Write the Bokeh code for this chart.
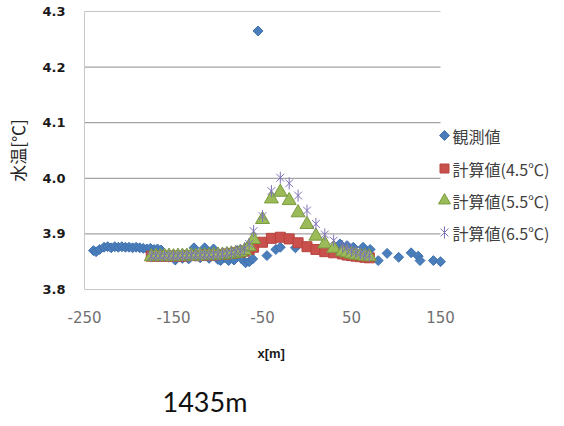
import numpy as np
from bokeh.plotting import figure
from bokeh.models import Range1d, FixedTicker, Title, ColumnDataSource
from bokeh.core.properties import value
from bokeh.embed import file_html
from bokeh.resources import INLINE

# ---- data ----
obs_x = [-240, -237, -233, -228, -224, -220, -216, -212, -208, -204,
         -200, -196, -192, -188, -184, -180, -176, -172, -168, -164,
         -155, -148, -140, -133, -127, -120, -115, -110, -105, -100,
         -97, -92, -88, -82, -78, -74, -69, -65, -61,
         -55, -45, -35, -30, -13, 37, 45, 52, 63, 71,
         80, 90, 103, 117, 125, 127, 142, 150]
obs_y = [3.870, 3.868, 3.872, 3.876, 3.877, 3.875, 3.877, 3.876, 3.877, 3.876,
         3.876, 3.875, 3.876, 3.875, 3.874, 3.873, 3.874, 3.872, 3.873, 3.871,
         3.858, 3.853, 3.856, 3.855, 3.875, 3.857, 3.875, 3.856, 3.873, 3.854,
         3.852, 3.857, 3.852, 3.853, 3.870, 3.856, 3.848, 3.850, 3.855,
         4.265, 3.861, 3.872, 3.876, 3.875, 3.882, 3.879, 3.876, 3.876, 3.872,
         3.852, 3.865, 3.858, 3.866, 3.860, 3.852, 3.852, 3.850]

calc_x = [-175, -170, -165, -160, -155, -150, -145, -140, -135, -130,
          -125, -120, -115, -110, -105, -100, -95, -90, -85, -80,
          -75, -70, -65,
          -60, -50, -40, -30, -20, -10, 0, 10, 20, 30, 40,
          45, 50, 55, 60, 65, 70]
calc_45 = [3.860, 3.860, 3.860, 3.860, 3.860, 3.860, 3.860, 3.860, 3.861, 3.861,
           3.861, 3.861, 3.862, 3.862, 3.862, 3.863, 3.863, 3.864, 3.865, 3.866,
           3.867, 3.869, 3.872,
           3.876, 3.885, 3.892, 3.894, 3.891, 3.884, 3.877, 3.872, 3.868, 3.866, 3.864,
           3.862, 3.861, 3.860, 3.859, 3.858, 3.857]
calc_55 = [3.859, 3.860, 3.859, 3.860, 3.860, 3.859, 3.860, 3.860, 3.860, 3.861,
           3.860, 3.861, 3.861, 3.861, 3.862, 3.862, 3.862, 3.863, 3.864, 3.865,
           3.867, 3.870, 3.877,
           3.890, 3.926, 3.963, 3.975, 3.960, 3.938, 3.917, 3.896, 3.882, 3.874, 3.868,
           3.866, 3.864, 3.862, 3.861, 3.860, 3.859]
calc_65 = [3.860, 3.861, 3.860, 3.861, 3.861, 3.860, 3.861, 3.861, 3.861, 3.862,
           3.861, 3.862, 3.862, 3.862, 3.863, 3.863, 3.864, 3.865, 3.866, 3.868,
           3.870, 3.874, 3.882,
           3.905, 3.932, 3.977, 4.001, 3.991, 3.969, 3.942, 3.918, 3.899, 3.888, 3.878,
           3.874, 3.870, 3.867, 3.865, 3.863, 3.861]

series_names = ["観測値", "計算値(4.5℃)", "計算値(5.5℃)", "計算値(6.5℃)"]
x_ticks = [-250, -150, -50, 50, 150]
x_tick_labels = ["-250", "-150", "-50", "50", "150"]
y_ticks = [3.8, 3.9, 4.0, 4.1, 4.2, 4.3]
y_tick_labels = ["3.8", "3.9", "4.0", "4.1", "4.2", "4.3"]
x_title = "x[m]"
y_title = "水温[℃]"
caption = "1435m"

# ---- layout (pixels) ----
W, H = 564, 426
PLOT_LEFT, PLOT_RIGHT, PLOT_TOP, PLOT_BOTTOM = 84, 440, 11, 289
X_MIN, X_MAX = x_ticks[0], x_ticks[-1]
Y_MIN, Y_MAX = y_ticks[0], y_ticks[-1]
px_per_x = (PLOT_RIGHT - PLOT_LEFT) / (X_MAX - X_MIN)
px_per_y = (PLOT_BOTTOM - PLOT_TOP) / (Y_MAX - Y_MIN)
# the frame is widened to the page's right edge so the key can sit beside the plot
x_frame_end = X_MAX + (W - PLOT_RIGHT) / px_per_x

def sx_to_x(px):
    return X_MAX + (px - PLOT_RIGHT) / px_per_x

def sy_to_y(py):
    return Y_MAX - (py - PLOT_TOP) / px_per_y

p = figure(width=W, height=H, output_backend="svg", toolbar_location=None,
           x_range=Range1d(X_MIN, x_frame_end), y_range=Range1d(Y_MIN, Y_MAX),
           min_border_left=PLOT_LEFT, min_border_right=0,
           min_border_top=PLOT_TOP, min_border_bottom=H - PLOT_BOTTOM)
p.outline_line_color = None
p.background_fill_color = "white"
p.border_fill_color = "white"

p.xaxis.ticker = FixedTicker(ticks=x_ticks)
p.xaxis.major_label_overrides = dict(zip(x_ticks, x_tick_labels))
p.yaxis.ticker = FixedTicker(ticks=y_ticks)
p.yaxis.major_label_overrides = dict(zip(y_ticks, y_tick_labels))
p.xgrid.grid_line_color = None
p.ygrid.grid_line_color = None

for ax in (p.xaxis, p.yaxis):
    ax.major_tick_line_color = None
    ax.minor_tick_line_color = None
    ax.major_tick_out = 0
    ax.major_tick_in = 0
p.xaxis.axis_line_color = None
p.yaxis.axis_line_color = "#C8C8C8"

# horizontal gridlines (and the x axis line) only across the plotting area
p.segment(x0=[X_MIN] * len(y_ticks), x1=[X_MAX] * len(y_ticks),
          y0=y_ticks, y1=y_ticks, line_color="#8C8C8C", line_width=1)

p.yaxis.major_label_text_font = "DejaVu Sans"
p.yaxis.major_label_text_font_style = "bold"
p.yaxis.major_label_text_font_size = "13px"
p.yaxis.major_label_text_color = "#1A1A1A"
p.yaxis.major_label_standoff = 19

p.xaxis.major_label_text_font = "DejaVu Sans"
p.xaxis.major_label_text_font_size = "15px"
p.xaxis.major_label_text_color = "#707070"
p.xaxis.major_label_standoff = 21

p.yaxis.axis_label = y_title
p.yaxis.axis_label_text_font = "Noto Sans CJK JP"
p.yaxis.axis_label_text_font_style = "normal"
p.yaxis.axis_label_text_font_size = "17px"
p.yaxis.axis_label_text_color = "#262626"
p.yaxis.axis_label_standoff = 9

# ---- series ----
mk = dict(
    obs=dict(marker="square", size=7, angle=np.pi / 4,
             fill_color="#4A7EBB", line_color="#3F70AD"),
    c45=dict(marker="square", size=10, fill_color="#C9504C", line_color="#B8443F"),
    c55=dict(marker="triangle", size=14, fill_color="#9BBB59", line_color="#7A9A3F"),
    c65x=dict(marker="x", size=11, line_color="#7E72B8", line_width=1),
    c65d=dict(marker="dash", size=12, angle=np.pi / 2, line_color="#7E72B8", line_width=1),
)
p.scatter(obs_x, obs_y, **mk["obs"])
p.scatter(calc_x, calc_45, **mk["c45"])
p.scatter(calc_x, calc_55, **mk["c55"])
p.scatter(calc_x, calc_65, **mk["c65x"])
p.scatter(calc_x, calc_65, **mk["c65d"])

# ---- key beside the plot ----
key_rows_px = [135, 168, 200, 232]
key_y = [sy_to_y(v) for v in key_rows_px]
key_mx = sx_to_x(444)
key_tx = sx_to_x(452)
p.scatter([key_mx], [key_y[0]], **mk["obs"])
p.scatter([key_mx], [key_y[1]], **{**mk["c45"], "size": 9})
p.scatter([key_mx], [key_y[2]], **{**mk["c55"], "size": 12})
p.scatter([key_mx], [key_y[3]], **mk["c65x"])
p.scatter([key_mx], [key_y[3]], **mk["c65d"])
key_src = ColumnDataSource(dict(x=[key_tx] * 4, y=key_y, t=series_names))
p.text(x="x", y="y", text="t", source=key_src, text_font=value("Noto Sans CJK JP"),
       text_font_size="16px", text_color="#404040", text_baseline="middle",
       text_align="left")

# ---- x title and caption below ----
p.add_layout(Title(text=x_title, align="left", offset=173, standoff=36,
                   text_font="Liberation Sans", text_font_size="13px",
                   text_font_style="bold", text_color="#1A1A1A"), "below")
p.add_layout(Title(text=caption, align="left", offset=78, standoff=8,
                   text_font="Lato", text_font_size="27px", text_font_style="normal",
                   text_color="#111111"), "below")

open("out.html", "w").write(file_html(p, INLINE))
